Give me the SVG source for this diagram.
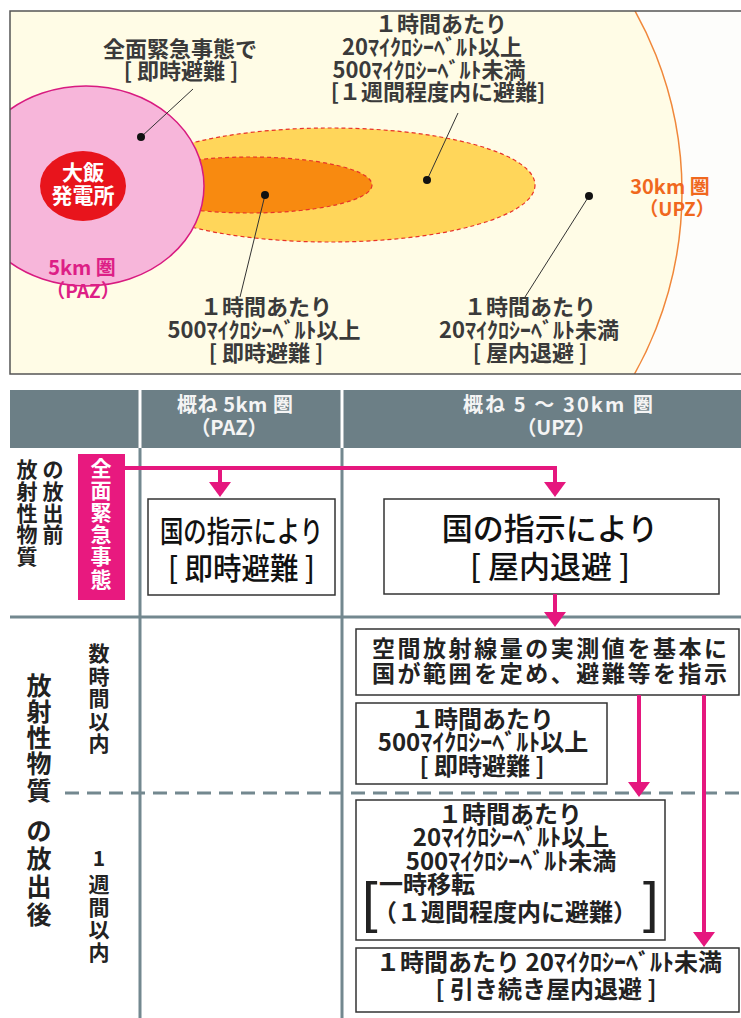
<svg xmlns="http://www.w3.org/2000/svg" width="741" height="1018" viewBox="0 0 741 1018">
<defs>
<style>
text{font-family:"Noto Sans CJK JP","Noto Sans",sans-serif;font-weight:700;fill:#3a3a3a}
.m{text-anchor:middle}
.t22{font-size:22px}
.lead{stroke:#333;stroke-width:1;fill:none}
.dot{fill:#111}
.box{fill:#fff;stroke:#333;stroke-width:1.5}
.tb{font-size:24px;fill:#222}
.big{font-weight:500;fill:#111}
.grid{stroke:#73888f;stroke-width:3;fill:none}
.pk{stroke:#e5177e;stroke-width:4;fill:none;marker-end:url(#ah)}
.hd{font-size:20px;fill:#f4f4f4}
.side{font-size:21px;fill:#222;text-anchor:middle}
.side2{font-size:25px;fill:#222;text-anchor:middle}
.em{font-size:21px;fill:#fff;text-anchor:middle}
.brk{font-family:"Liberation Sans",sans-serif;font-weight:400;font-size:56px;fill:#222}
.dash{stroke:#e8322a;stroke-width:1.2;stroke-dasharray:4 3}
</style>
<clipPath id="pc"><rect x="10" y="11" width="731" height="363"/></clipPath>
<marker id="ah" viewBox="0 0 15 22" refX="7" refY="11" markerWidth="15" markerHeight="22" markerUnits="userSpaceOnUse" orient="auto"><path d="M0,0 L15,11 L0,22 Z" fill="#e5177e"/></marker>
</defs>
<rect width="741" height="1018" fill="#ffffff"/>

<g id="map">
<g clip-path="url(#pc)">
<rect x="10" y="11" width="731" height="363" fill="#fdfdfb"/>
<circle cx="310" cy="192" r="372" fill="#fffce6" stroke="#f0873a" stroke-width="1.5"/>
<ellipse class="dash" cx="330" cy="185" rx="205" ry="57" fill="#ffd65a"/>
<ellipse class="dash" cx="250" cy="185" rx="122" ry="28" fill="#f88a10"/>
<ellipse cx="86" cy="186" rx="118" ry="100" fill="#f7b6da" stroke="#d81b80" stroke-width="1.5"/>
</g>
<rect x="10" y="11" width="740" height="363" fill="none" stroke="#555" stroke-width="1.5"/>
</g>

<g id="plant">
<ellipse cx="83" cy="186" rx="43" ry="35" fill="#e8141c"/>
<text class="m" x="83" y="180" font-size="21" style="fill:#fff">大飯</text>
<text class="m" x="83" y="203" font-size="21" style="fill:#fff">発電所</text>
</g>

<g id="label-5km">
<text class="m" x="82" y="275" font-size="20" style="fill:#dd1f86">5km 圏</text>
<text class="m" x="83" y="298" font-size="19" style="fill:#dd1f86">（PAZ）</text>
</g>
<g id="label-30km">
<text class="m" x="670" y="194" font-size="20" style="fill:#f0681e">30km 圏</text>
<text class="m" x="677" y="216" font-size="19" style="fill:#f0681e">（UPZ）</text>
</g>

<g id="note-paz">
<text class="m t22" x="180" y="57">全面緊急事態で</text>
<text class="m t22" x="181" y="79">[ 即時避難 ]</text>
<line class="lead" x1="193" y1="89" x2="141" y2="137"/>
<circle class="dot" cx="141" cy="137" r="4"/>
</g>

<g id="note-1week">
<text class="m t22" x="441" y="32">１時間あたり</text>
<text class="m t22" x="432" y="55">20ﾏｲｸﾛｼｰﾍﾞﾙﾄ以上</text>
<text class="m t22" x="429" y="78">500ﾏｲｸﾛｼｰﾍﾞﾙﾄ未満</text>
<text class="m t22" x="438" y="100">[１週間程度内に避難]</text>
<line class="lead" x1="458" y1="113" x2="427" y2="180"/>
<circle class="dot" cx="427" cy="180" r="4"/>
</g>

<g id="note-500">
<text class="m t22" x="266" y="315">１時間あたり</text>
<text class="m t22" x="264" y="338">500ﾏｲｸﾛｼｰﾍﾞﾙﾄ以上</text>
<text class="m t22" x="266" y="361">[ 即時避難 ]</text>
<line class="lead" x1="265" y1="195" x2="240" y2="297"/>
<circle class="dot" cx="265" cy="195" r="4"/>
</g>

<g id="note-20">
<text class="m t22" x="530" y="315">１時間あたり</text>
<text class="m t22" x="529" y="338">20ﾏｲｸﾛｼｰﾍﾞﾙﾄ未満</text>
<text class="m t22" x="530" y="361">[ 屋内退避 ]</text>
<line class="lead" x1="589" y1="196" x2="525" y2="297"/>
<circle class="dot" cx="589" cy="196" r="4"/>
</g>

<g id="table-grid">
<rect x="10" y="390" width="731" height="58" fill="#6c7f86"/>
<line x1="140" y1="390" x2="140" y2="448" stroke="#fff" stroke-width="3"/>
<line x1="342" y1="390" x2="342" y2="448" stroke="#fff" stroke-width="3"/>
<line class="grid" x1="140" y1="448" x2="140" y2="1018"/>
<line class="grid" x1="342" y1="448" x2="342" y2="1018"/>
<line class="grid" x1="10" y1="617" x2="741" y2="617"/>
<line class="grid" x1="65" y1="793" x2="741" y2="793" stroke-width="2.5" stroke-dasharray="14 8"/>
</g>

<g id="head-paz">
<text class="m hd" x="235" y="412" textLength="116" lengthAdjust="spacing">概ね 5km 圏</text>
<text class="m hd" x="229" y="435">（PAZ）</text>
</g>
<g id="head-upz">
<text class="m hd" x="558" y="412" textLength="190" lengthAdjust="spacing">概ね 5 〜 30km 圏</text>
<text class="m hd" x="556" y="435">（UPZ）</text>
</g>

<g id="row-before">
<text class="side" x="27" y="477">放</text>
<text class="side" x="27" y="499">射</text>
<text class="side" x="27" y="521">性</text>
<text class="side" x="27" y="542">物</text>
<text class="side" x="27" y="564">質</text>
<text class="side" x="53" y="477">の</text>
<text class="side" x="53" y="499">放</text>
<text class="side" x="53" y="521">出</text>
<text class="side" x="53" y="542">前</text>
</g>

<g id="emergency">
<rect x="78" y="454" width="47" height="146" fill="#e8197f"/>
<text class="em" x="101" y="476">全</text>
<text class="em" x="101" y="498">面</text>
<text class="em" x="101" y="520">緊</text>
<text class="em" x="101" y="542">急</text>
<text class="em" x="101" y="564">事</text>
<text class="em" x="101" y="587">態</text>
</g>

<g id="row-after">
<text class="side2" x="39" y="695">放</text>
<text class="side2" x="39" y="721">射</text>
<text class="side2" x="39" y="747">性</text>
<text class="side2" x="39" y="773">物</text>
<text class="side2" x="39" y="800">質</text>
<text class="side2" x="39" y="840">の</text>
<text class="side2" x="39" y="868">放</text>
<text class="side2" x="39" y="896">出</text>
<text class="side2" x="39" y="924">後</text>
</g>
<g id="row-hours">
<text class="side" x="99" y="661">数</text>
<text class="side" x="99" y="684">時</text>
<text class="side" x="99" y="706">間</text>
<text class="side" x="99" y="729">以</text>
<text class="side" x="99" y="751">内</text>
</g>
<g id="row-week">
<text class="side" x="99" y="866">1</text>
<text class="side" x="99" y="892">週</text>
<text class="side" x="99" y="915">間</text>
<text class="side" x="99" y="937">以</text>
<text class="side" x="99" y="960">内</text>
</g>

<g id="box-paz">
<rect class="box" x="148" y="499" width="187" height="96"/>
<text class="m big" x="241.5" y="542" font-size="30" textLength="163" lengthAdjust="spacingAndGlyphs">国の指示により</text>
<text class="m big" x="241.5" y="579" font-size="30" textLength="147" lengthAdjust="spacingAndGlyphs">[ 即時避難 ]</text>
</g>

<g id="box-upz">
<rect class="box" x="384" y="499" width="335" height="95"/>
<text class="m big" x="550" y="540" font-size="31">国の指示により</text>
<text class="m big" x="550" y="578" font-size="31">[ 屋内退避 ]</text>
</g>

<g id="box-measure">
<rect class="box" x="356" y="629" width="383" height="66"/>
<text class="m" x="549.5" y="657" font-size="23" style="fill:#222" textLength="355" lengthAdjust="spacing">空間放射線量の実測値を基本に</text>
<text class="m" x="549.5" y="682" font-size="23" style="fill:#222" textLength="355" lengthAdjust="spacing">国が範囲を定め、避難等を指示</text>
</g>

<g id="box-500">
<rect class="box" x="356" y="703" width="251" height="81"/>
<text class="m tb" x="482" y="728">１時間あたり</text>
<text class="m tb" x="483" y="751">500ﾏｲｸﾛｼｰﾍﾞﾙﾄ以上</text>
<text class="m tb" x="482" y="775">[ 即時避難 ]</text>
</g>

<g id="box-20-500">
<rect class="box" x="356" y="800" width="309" height="140"/>
<text class="m tb" x="510" y="823">１時間あたり</text>
<text class="m tb" x="511" y="846">20ﾏｲｸﾛｼｰﾍﾞﾙﾄ以上</text>
<text class="m tb" x="511" y="870">500ﾏｲｸﾛｼｰﾍﾞﾙﾄ未満</text>
<text class="brk" x="362" y="921">[</text>
<text class="tb" x="379" y="893">一時移転</text>
<text class="tb" x="373" y="921">（１週間程度内に避難）</text>
<text class="brk" x="643" y="921">]</text>
</g>

<g id="box-20">
<rect class="box" x="356" y="948" width="383" height="64"/>
<text class="m tb" x="549" y="971">１時間あたり 20ﾏｲｸﾛｼｰﾍﾞﾙﾄ未満</text>
<text class="m tb" x="546" y="998">[ 引き続き屋内退避 ]</text>
</g>

<g id="connectors">
<path class="pk" d="M125,468 H555 V489"/>
<path class="pk" d="M220,468 V489"/>
<path class="pk" d="M555,594 V619"/>
<path class="pk" d="M639,695 V789"/>
<path class="pk" d="M704,695 V939"/>
</g>
</svg>
